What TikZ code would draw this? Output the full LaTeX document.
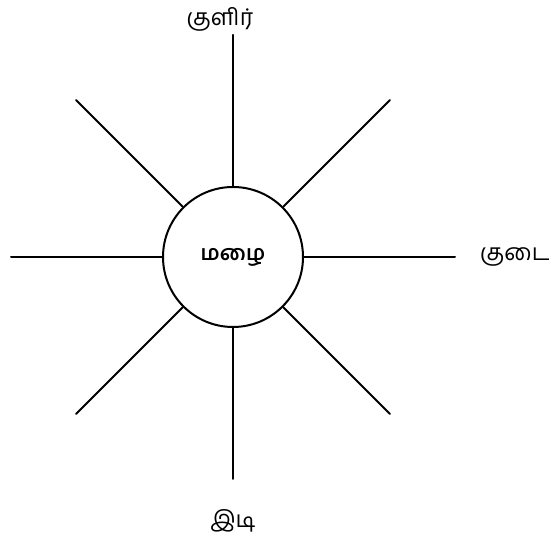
\documentclass[tikz,border=0pt]{standalone}
\usepackage{fontspec}
\usetikzlibrary{calc}
\newfontfamily\tamilfont[Script=Tamil]{Hind Madurai}
\tikzset{
  ray/.style={line width=2pt,line cap=round},
  hub/.style={circle,draw,line width=2pt,minimum size=140pt,inner sep=0pt,font=\tamilfont\bfseries\fontsize{21}{24}\selectfont},
  word/.style={font=\tamilfont\fontsize{23}{26}\selectfont,inner sep=0pt}
}
\begin{document}
\begin{tikzpicture}[x=1pt,y=1pt]
% Word web around the centre word
	\useasboundingbox (0,0) rectangle (549,537);
	\newcommand\raylen{222} %length of each ray from the centre
	\node[hub] (rain) at (233,280) {மழை}; %centre circle
	% rays
	\foreach \ang in {0,45,...,315}{
		\coordinate (end\ang) at ($(rain.center)+(\ang:\raylen pt)$);
		\draw[ray] (rain.\ang) -- (end\ang);
	}
	% words at the ends of three rays
	\node[word] (cold) at (220,518) {குளிர்};
	\node[word] (umbrella) at (515,280) {குடை};
	\node[word] (thunder) at (233,16) {இடி};
\end{tikzpicture}
\end{document}
